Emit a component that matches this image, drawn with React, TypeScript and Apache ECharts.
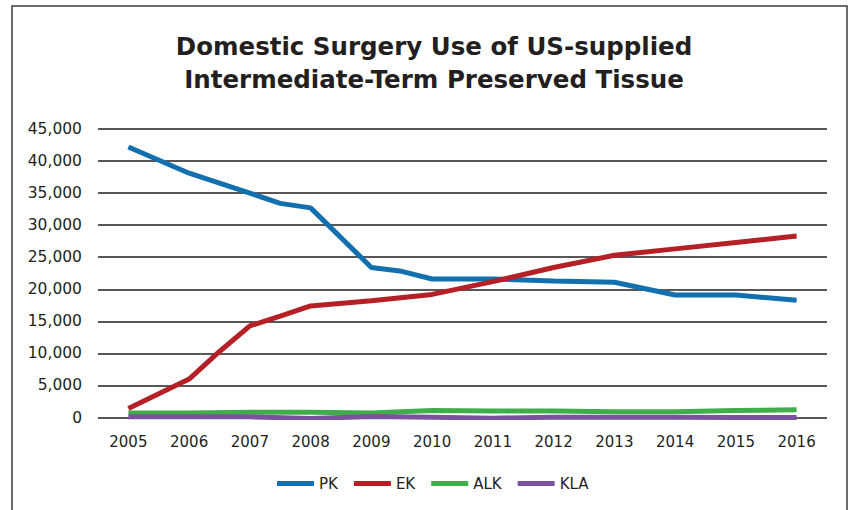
import React, { useEffect, useRef } from "react";
import * as echarts from "echarts";

const titleLines = ["Domestic Surgery Use of US-supplied", "Intermediate-Term Preserved Tissue"];
const yearLabels = [2005, 2006, 2007, 2008, 2009, 2010, 2011, 2012, 2013, 2014, 2015, 2016];
const yTicks = { min: 0, max: 45000, interval: 5000 };

const pkPoints: [number, number][] = [
  [2005, 42200], [2006, 38100], [2007, 35000], [2007.5, 33400], [2008, 32700],
  [2009, 23400], [2009.5, 22800], [2010, 21600], [2011, 21600], [2012, 21300],
  [2013, 21100], [2014, 19100], [2015, 19100], [2016, 18300],
];
const ekPoints: [number, number][] = [
  [2005, 1400], [2006, 6000], [2006.5, 10300], [2007, 14300], [2007.5, 15800],
  [2008, 17400], [2009, 18200], [2010, 19200], [2011, 21200], [2012, 23400],
  [2013, 25300], [2014, 26300], [2015, 27300], [2016, 28300],
];
const alkPoints: [number, number][] = [
  [2005, 700], [2006, 700], [2007, 800], [2008, 800], [2009, 700], [2010, 1100],
  [2011, 1000], [2012, 1000], [2013, 900], [2014, 900], [2015, 1100], [2016, 1200],
];
const klaPoints: [number, number][] = [
  [2005, 100], [2006, 100], [2007, 100], [2008, -150], [2009, 150], [2010, 50],
  [2011, -100], [2012, 50], [2013, 50], [2014, 50], [2015, 0], [2016, 0],
];

const seriesDefs = [
  { name: "PK", color: "#1170ad", data: pkPoints },
  { name: "EK", color: "#b51f26", data: ekPoints },
  { name: "ALK", color: "#3fae4a", data: alkPoints },
  { name: "KLA", color: "#7a52a0", data: klaPoints },
];

export default function App() {
  const ref = useRef<HTMLDivElement>(null);
  useEffect(() => {
    if (!ref.current) return;
    const chart = echarts.init(ref.current, null, { renderer: "svg" });
    const axisFont = "'DejaVu Sans', sans-serif";
    chart.setOption({
      animation: false,
      backgroundColor: "#ffffff",
      graphic: [
        {
          type: "rect",
          shape: { x: 12, y: 6, width: 835, height: 540 },
          style: { fill: "none", stroke: "#3a3a3a", lineWidth: 1.5 },
          silent: true,
        },
        ...titleLines.map((t, i) => ({
          type: "text",
          x: 434,
          y: 46 + i * 33,
          style: {
            text: t,
            fill: "#231f20",
            font: "bold 24.5px 'DejaVu Sans', sans-serif",
            textAlign: "center",
            textVerticalAlign: "middle",
          },
        })),
      ],
      grid: { left: 98, right: 27, top: 129, bottom: 92.5, containLabel: false },
      legend: {
        top: 476,
        left: 277,
        padding: 0,
        itemWidth: 37,
        itemHeight: 5,
        itemGap: 16,
        icon: "rect",
        textStyle: { fontFamily: axisFont, fontSize: 15, color: "#231f20" },
        data: seriesDefs.map((s) => s.name),
      },
      xAxis: {
        type: "value",
        min: 2004.5,
        max: 2016.5,
        axisLine: { show: false },
        axisTick: { show: false },
        splitLine: { show: false },
        axisLabel: {
          customValues: yearLabels,
          formatter: (v: number) => String(v),
          fontFamily: axisFont,
          fontSize: 15,
          color: "#231f20",
          margin: 17,
        },
      },
      yAxis: {
        type: "value",
        min: yTicks.min,
        max: yTicks.max,
        interval: yTicks.interval,
        axisLine: { show: false },
        axisTick: { show: false },
        splitLine: { lineStyle: { color: "#231f20", width: 1.5 } },
        axisLabel: {
          fontFamily: axisFont,
          fontSize: 15.5,
          color: "#231f20",
          margin: 16,
          formatter: (v: number) => v.toLocaleString("en-US"),
        },
      },
      series: seriesDefs.map((s) => ({
        name: s.name,
        type: "line",
        data: s.data,
        symbol: "none",
        showSymbol: false,
        color: s.color,
        lineStyle: { color: s.color, width: 5 },
        itemStyle: { color: s.color },
      })),
    });
    return () => chart.dispose();
  }, []);
  return (
    <div
      ref={ref}
      style={{ position: "absolute", left: 0, top: 0, width: 854, height: 510 }}
    />
  );
}
